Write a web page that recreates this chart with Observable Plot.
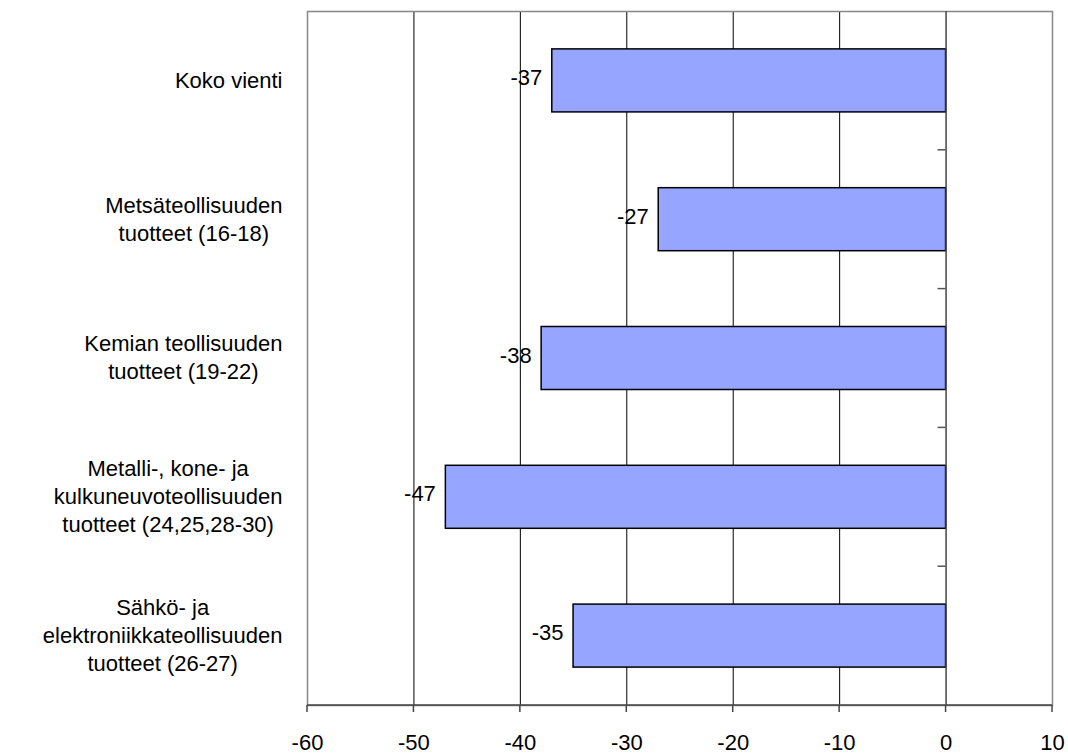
<!DOCTYPE html>
<html><head><meta charset="utf-8">
<script src="https://cdn.jsdelivr.net/npm/d3@7"></script>
<script src="https://cdn.jsdelivr.net/npm/@observablehq/plot@0.6"></script>
<style>body{margin:0;background:#fff} #chart svg{display:block}</style>
</head><body><div id="chart"></div>
<script>
const categories = [
  "Koko vienti",
  "Metsäteollisuuden\ntuotteet (16-18)",
  "Kemian teollisuuden\ntuotteet (19-22)",
  "Metalli-, kone- ja\nkulkuneuvoteollisuuden\ntuotteet (24,25,28-30)",
  "Sähkö- ja\nelektroniikkateollisuuden\ntuotteet (26-27)"
];
const values = [-37, -27, -38, -47, -35];
const xTicks = [-60, -50, -40, -30, -20, -10, 0, 10];

const data = categories.map((c, i) => ({category: c, value: values[i]}));

const W = 1068, H = 754, mL = 307, mR = 16, mT = 11, mB = 49;
const FONT = "'Liberation Sans', Arial, sans-serif";
const FS = 22;
const PAD_IN = 0.546, PAD_OUT = 0.273;

const ctx = document.createElement("canvas").getContext("2d");
ctx.font = `${FS}px 'Liberation Sans'`;
const blockWidth = s => Math.max(...s.split("\n").map(l => ctx.measureText(l).width));

function decorations(index, scales, values, dims) {
  const ns = "http://www.w3.org/2000/svg";
  const g = document.createElementNS(ns, "g");
  const x0 = scales.x(0);
  const step = (dims.height - dims.marginTop - dims.marginBottom) / (categories.length - PAD_IN + 2 * PAD_OUT);
  for (let k = 1; k < categories.length; k++) {
    const y = scales.y(categories[k]) - step * PAD_IN / 2;
    const l = document.createElementNS(ns, "line");
    l.setAttribute("x1", x0 - 8); l.setAttribute("x2", x0);
    l.setAttribute("y1", y); l.setAttribute("y2", y);
    l.setAttribute("stroke", "#555"); l.setAttribute("stroke-width", 1.5);
    g.appendChild(l);
  }
  const yb = dims.height - dims.marginBottom;
  const b = document.createElementNS(ns, "line");
  b.setAttribute("x1", dims.marginLeft); b.setAttribute("x2", dims.width - dims.marginRight);
  b.setAttribute("y1", yb); b.setAttribute("y2", yb);
  b.setAttribute("stroke", "#444"); b.setAttribute("stroke-width", 1.5);
  g.appendChild(b);
  for (const t of xTicks) {
    const xt = scales.x(t);
    const l = document.createElementNS(ns, "line");
    l.setAttribute("x1", xt); l.setAttribute("x2", xt);
    l.setAttribute("y1", yb); l.setAttribute("y2", yb + 7);
    l.setAttribute("stroke", "#444"); l.setAttribute("stroke-width", 1.5);
    g.appendChild(l);
  }
  return g;
}

const labelMarks = categories.map(c => Plot.text([c], {
  y: d => d, text: d => d, frameAnchor: "left", textAnchor: "middle",
  dx: -(25 + blockWidth(c) / 2), dy: -2, lineAnchor: "middle", lineHeight: 1.27,
  fontSize: FS, fill: "#000"
}));

const chart = Plot.plot({
  width: W, height: H,
  marginLeft: mL, marginRight: mR, marginTop: mT, marginBottom: mB,
  style: {fontFamily: FONT, fontSize: FS + "px", background: "#fff", color: "#000"},
  x: {domain: [-60, 10], axis: null, label: null},
  y: {domain: categories, paddingInner: PAD_IN, paddingOuter: PAD_OUT, round: false, axis: null, label: null},
  marks: [
    Plot.gridX(xTicks.filter(t => t !== 0 && t !== -60 && t !== 10), {stroke: "#000", strokeOpacity: 1, strokeWidth: 1}),
    Plot.frame({stroke: "#888", strokeWidth: 1.5}),
    Plot.barX(data, {x: "value", y: "category", fill: "#96A5FF", stroke: "#000", strokeWidth: 1.5}),
    Plot.ruleX([0], {stroke: "#444", strokeWidth: 1.5}),
    decorations,
    Plot.text(xTicks, {x: d => d, text: d => String(d), frameAnchor: "bottom", lineAnchor: "top", dy: 29, fontSize: FS, fill: "#000"}),
    Plot.text(data, {x: "value", y: "category", text: d => String(d.value), textAnchor: "end", dx: -10, dy: -3, fontSize: FS, fill: "#000"}),
    ...labelMarks
  ]
});
document.getElementById("chart").appendChild(chart);
</script>
</body></html>
